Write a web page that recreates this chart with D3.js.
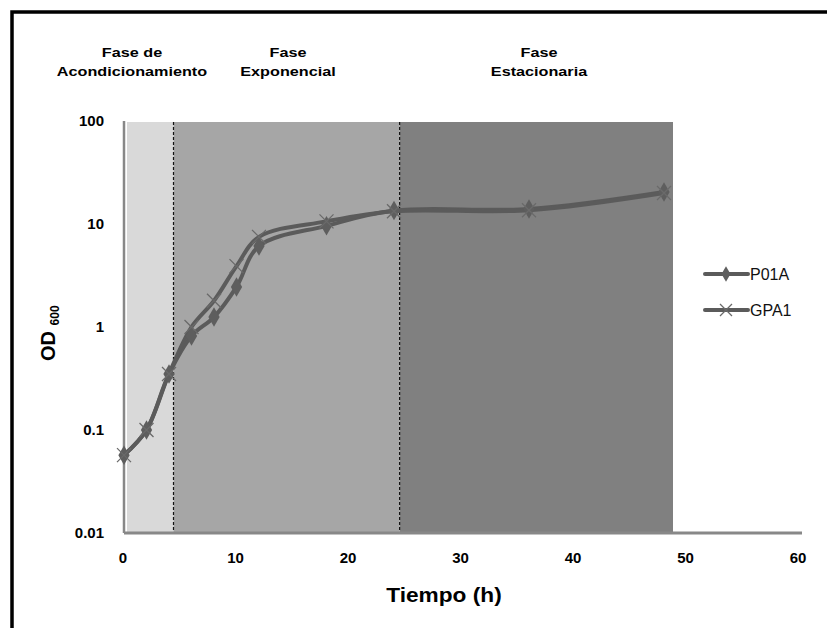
<!DOCTYPE html>
<html>
<head>
<meta charset="utf-8">
<script src="https://cdn.jsdelivr.net/npm/d3@7"></script>
<style>
  body { margin: 0; background: #fff; }
  svg { display: block; }
</style>
</head>
<body>
<div id="chart"></div>
<script>
// time points (h)
const times = [0, 2, 4, 6, 8, 10, 12, 18, 24, 36, 48];
// OD600 values
const p01a = [0.057, 0.1, 0.35, 0.82, 1.25, 2.45, 6.1, 9.6, 13.5, 14, 20.5];
const gpa1 = [0.057, 0.1, 0.35, 1.0, 1.8, 3.9, 7.5, 10.6, 13.3, 13.6, 20];
const seriesNames = ["P01A", "GPA1"];
// phase bands: [start, end] in hours
const phaseNames = [["Fase de", "Acondicionamiento"], ["Fase", "Exponencial"], ["Fase", "Estacionaria"]];
const phaseBounds = [[0, 4.4], [4.4, 24.5], [24.5, 48.8]];
const phaseColors = ["#d9d9d9", "#a6a6a6", "#808080"];
const xTicks = [0, 10, 20, 30, 40, 50, 60];
const yTicks = [0.01, 0.1, 1, 10, 100];

const width = 827, height = 628;
const svg = d3.select("#chart").append("svg")
  .attr("width", width).attr("height", height);

// outer frame
svg.append("rect")
  .attr("x", 12).attr("y", 12)
  .attr("width", width + 20).attr("height", height + 20)
  .attr("fill", "none").attr("stroke", "#000").attr("stroke-width", 3.5);

const x = d3.scaleLinear().domain([0, 60]).range([124, 799]);
const y = d3.scaleLog().domain([0.01, 100]).range([533, 121]);

// phase bands
svg.selectAll("rect.band").data(phaseBounds).enter().append("rect")
  .attr("class", "band")
  .attr("x", d => x(d[0]) + (d[0] === 0 ? 3 : 0))
  .attr("y", y(100) + 1)
  .attr("width", d => x(d[1]) - x(d[0]) - (d[0] === 0 ? 3 : 0))
  .attr("height", y(0.01) - y(100) - 1)
  .attr("fill", (d, i) => phaseColors[i]);

// dashed separators
svg.selectAll("line.sep").data(phaseBounds.slice(1)).enter().append("line")
  .attr("x1", d => x(d[0])).attr("x2", d => x(d[0]))
  .attr("y1", y(100) + 1).attr("y2", y(0.01))
  .attr("stroke", "#111").attr("stroke-width", 1.2)
  .attr("stroke-dasharray", "3,2");

// axes lines
svg.append("line")
  .attr("x1", x(0)).attr("x2", x(0))
  .attr("y1", y(100)).attr("y2", y(0.01))
  .attr("stroke", "#888").attr("stroke-width", 2.5);
svg.append("line")
  .attr("x1", x(0)).attr("x2", x(60) + 3)
  .attr("y1", y(0.01)).attr("y2", y(0.01))
  .attr("stroke", "#888").attr("stroke-width", 3);

const tickFont = "'Liberation Sans Narrow', 'Arial Narrow', 'Liberation Sans', sans-serif";

// y tick labels
svg.selectAll("text.ytick").data(yTicks).enter().append("text")
  .attr("x", 104).attr("y", d => y(d) + 5)
  .attr("text-anchor", "end")
  .style("font-family", tickFont).style("font-weight", "bold").style("font-size", "15px")
  .text(d => d3.format("~g")(d));

// x tick labels
svg.selectAll("text.xtick").data(xTicks).enter().append("text")
  .attr("x", d => x(d) - 1).attr("y", 563)
  .attr("text-anchor", "middle")
  .style("font-family", tickFont).style("font-weight", "bold").style("font-size", "15px")
  .text(d => d);

// axis titles
svg.append("text")
  .attr("transform", "translate(444,602) scale(1.08,1)")
  .attr("text-anchor", "middle")
  .style("font-family", "'Liberation Sans', Arial, sans-serif")
  .style("font-weight", "bold").style("font-size", "21px")
  .text("Tiempo (h)");

const yTitle = svg.append("text")
  .attr("transform", "translate(55,361) rotate(-90)")
  .style("font-family", "'Liberation Sans', Arial, sans-serif")
  .style("font-weight", "bold");
yTitle.append("tspan").style("font-size", "20px").text("OD ");
yTitle.append("tspan").style("font-size", "12px").attr("dy", 4).text("600");

// phase labels
const phaseCenters = [132, 288, 539];
phaseNames.forEach((lines, i) => {
  const t = svg.append("text")
    .attr("transform", `translate(${phaseCenters[i]},0) scale(1.2,1)`)
    .attr("text-anchor", "middle")
    .style("font-family", "'Liberation Sans', Arial, sans-serif")
    .style("font-weight", "bold").style("font-size", "13.5px");
  lines.forEach((s, j) => {
    t.append("tspan").attr("x", 0).attr("y", 57 + j * 19).text(s);
  });
});

// series lines
const line = d3.line()
  .x(d => x(d[0]))
  .y(d => y(d[1]))
  .curve(d3.curveCatmullRom.alpha(0.5));

const lineColor = "#5b5b5b";
const data = [p01a, gpa1].map(v => times.map((t, i) => [t, v[i]]));

data.forEach(pts => {
  svg.append("path")
    .attr("d", line(pts))
    .attr("fill", "none")
    .attr("stroke", lineColor)
    .attr("stroke-width", 4)
    .attr("stroke-linejoin", "round")
    .attr("stroke-linecap", "round");
});

// markers: diamond for P01A
const diamond = d3.symbol().type(d3.symbolDiamond).size(110);
svg.selectAll("path.dia").data(data[0]).enter().append("path")
  .attr("d", diamond)
  .attr("transform", d => `translate(${x(d[0])},${y(d[1])})`)
  .attr("fill", "#5e5e5e");

// x markers for GPA1
const xm = 7;
data[1].forEach(d => {
  const cx = x(d[0]), cy = y(d[1]);
  svg.append("path")
    .attr("d", `M${cx - xm},${cy - xm}L${cx + xm},${cy + xm}M${cx - xm},${cy + xm}L${cx + xm},${cy - xm}`)
    .attr("stroke", "#6a6a6a").attr("stroke-width", 1.3);
});

// legend
const legendY = [274, 310];
seriesNames.forEach((name, i) => {
  svg.append("line")
    .attr("x1", 705).attr("x2", 748)
    .attr("y1", legendY[i]).attr("y2", legendY[i])
    .attr("stroke", lineColor).attr("stroke-width", 4)
    .attr("stroke-linecap", "round");
  if (i === 0) {
    svg.append("path")
      .attr("d", d3.symbol().type(d3.symbolDiamond).size(70))
      .attr("transform", `translate(726,${legendY[i]})`)
      .attr("fill", "#5e5e5e");
  } else {
    const cx = 726, cy = legendY[i], r = 6;
    svg.append("path")
      .attr("d", `M${cx - r},${cy - r}L${cx + r},${cy + r}M${cx - r},${cy + r}L${cx + r},${cy - r}`)
      .attr("stroke", "#6a6a6a").attr("stroke-width", 1.3);
  }
  svg.append("text")
    .attr("x", 750).attr("y", legendY[i] + 6)
    .style("font-family", "'Liberation Sans', Arial, sans-serif")
    .style("font-size", "16px").style("fill", "#111")
    .text(name);
});
</script>
</body>
</html>
